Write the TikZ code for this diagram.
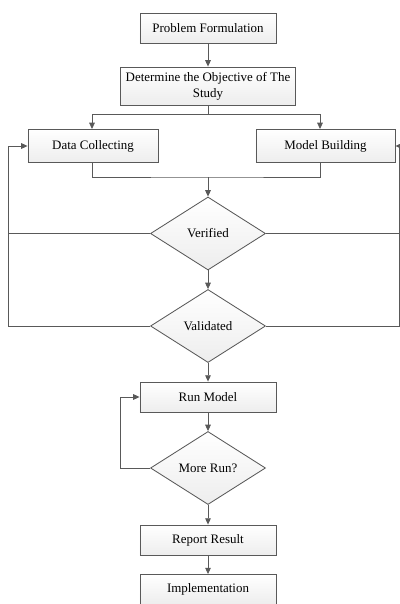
\documentclass[tikz,border=0pt]{standalone}
\usepackage{fontspec}
\setmainfont{Liberation Serif}
\usetikzlibrary{shapes.geometric,arrows.meta,shadows}

\tikzset{
  flowbox/.style={draw=gray!70!black, line width=0.6pt, top color=white, bottom color=gray!14,
    drop shadow={opacity=0.2, shadow xshift=0.6pt, shadow yshift=-0.6pt},
    minimum width=3.4cm, minimum height=0.75cm, align=center, inner sep=1pt,
    font=\fontsize{9.2}{11.5}\selectfont},
  decision/.style={diamond, draw=gray!70!black, line width=0.6pt, top color=white, bottom color=gray!14,
    minimum width=2.875cm, minimum height=1.825cm, inner sep=0pt,
    font=\fontsize{9.2}{11}\selectfont},
  link/.style={draw=gray!70!black, line width=0.6pt},
  arr/.style={link, -{Triangle[length=4.5pt,width=4pt]}}
}

\begin{document}
\begin{tikzpicture}[x=0.025cm,y=-0.025cm]
\useasboundingbox (0,0) rectangle (400,604);

% Boxes
\node[flowbox] (pf) at (208,28) {Problem Formulation};
\node[flowbox, minimum width=4.375cm, minimum height=0.95cm] (obj) at (208,86)
  {Determine the Objective of The\\Study};
\node[flowbox, minimum width=3.25cm, minimum height=0.825cm] (dc) at (93,146) {Data Collecting};
\node[flowbox, minimum width=3.475cm, minimum height=0.825cm] (mb) at (325.5,146) {Model Building};
\node[decision] (ver) at (208,233.5) {Verified};
\node[decision] (val) at (208,326) {Validated};
\node[flowbox] (run) at (208,397) {Run Model};
\node[decision] (more) at (208,468) {More Run?};
\node[flowbox] (rep) at (208,540) {Report Result};
\node[flowbox] (imp) at (208,589.5) {Implementation};

% Helper points
\coordinate (join) at (208,177);
\coordinate (lf) at (8,146);
\coordinate (rt) at (399,146);

% Main flow
\draw[arr] (pf) -- (obj);
\draw[arr] (obj.south) -- ++(0,9) -| (92,129);
\draw[arr] (obj.south) -- ++(0,9) -| (320,129);
\draw[link] (92,162) |- (join) -| (320,162);
\draw[arr] (join) -- (ver);
\draw[arr] (ver) -- (val);
\draw[arr] (val) -- (run);
\draw[arr] (run) -- (more);
\draw[arr] (more) -- (rep);
\draw[arr] (rep) -- (imp);

% Feedback loops
\draw[arr] (val.west) -| (lf) -- (dc.west);
\draw[link] (ver.west) -- (ver.west -| lf);
\draw[arr] (val.east) -| (rt) -- (mb.east);
\draw[link] (ver.east) -- (ver.east -| rt);
\draw[arr] (more.west) -- ++(-30,0) |- (run.west);
\end{tikzpicture}
\end{document}
